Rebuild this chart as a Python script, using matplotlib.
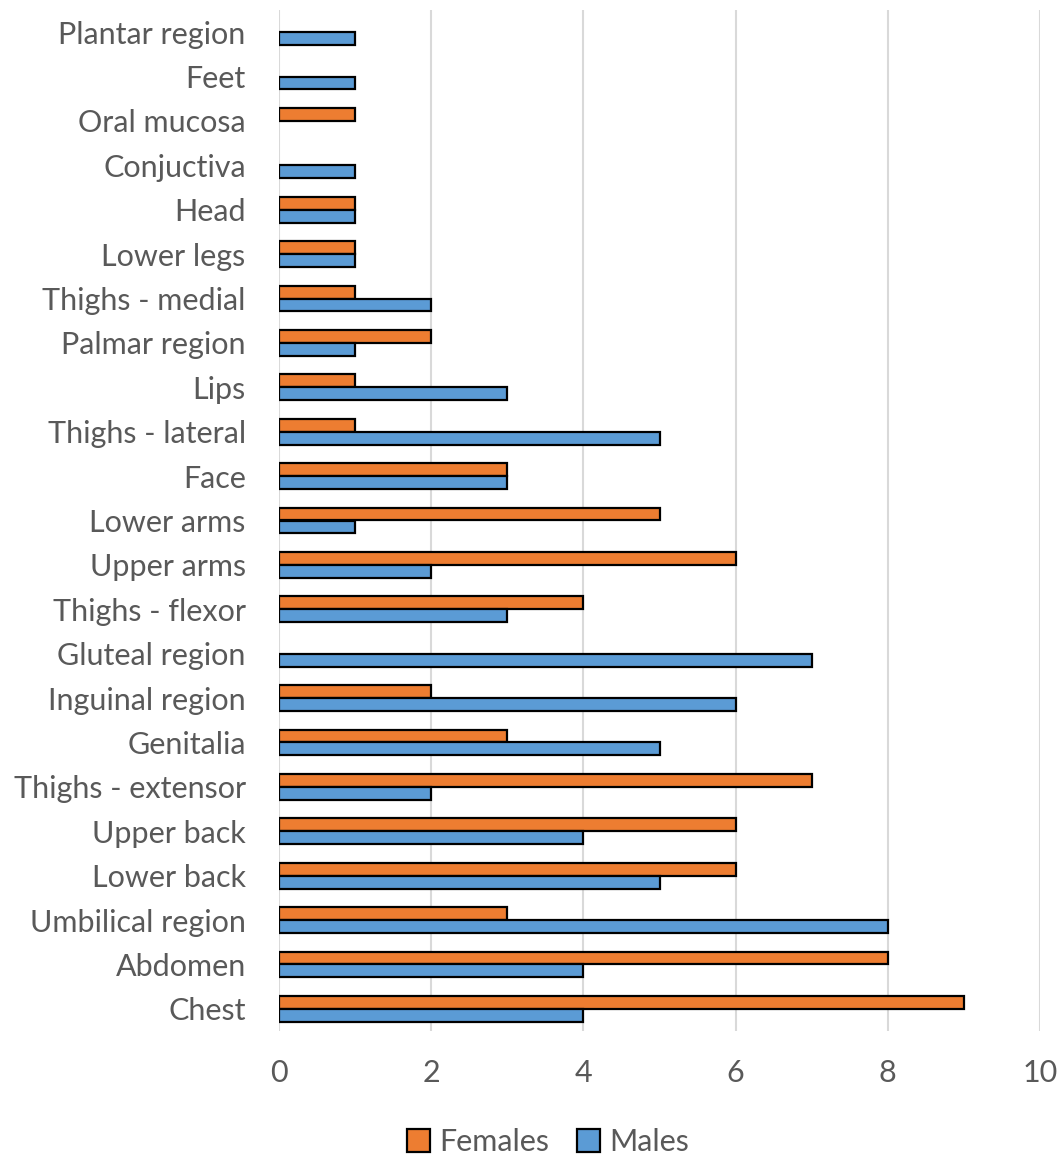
import matplotlib
matplotlib.use("Agg")
import matplotlib.pyplot as plt
import numpy as np

categories = ["Plantar region", "Feet", "Oral mucosa", "Conjuctiva", "Head", "Lower legs",
              "Thighs - medial", "Palmar region", "Lips", "Thighs - lateral", "Face",
              "Lower arms", "Upper arms", "Thighs - flexor", "Gluteal region",
              "Inguinal region", "Genitalia", "Thighs - extensor", "Upper back",
              "Lower back", "Umbilical region", "Abdomen", "Chest"]
females = [0, 0, 1, 0, 1, 1, 1, 2, 1, 1, 3, 5, 6, 4, 0, 2, 3, 7, 6, 6, 3, 8, 9]
males = [1, 1, 0, 1, 1, 1, 2, 1, 3, 5, 3, 1, 2, 3, 7, 6, 5, 2, 4, 5, 8, 4, 4]
xticks = [0, 2, 4, 6, 8, 10]

plt.rcParams['font.family'] = ['Lato', 'DejaVu Sans']
TXT = "#595959"
ORANGE = "#ED7D31"
BLUE = "#5B9BD5"

fig = plt.figure(figsize=(10.63, 11.58), dpi=100)
ax = fig.add_axes([279/1063, 1 - 1031/1158, (1040-279)/1063, (1031-10)/1158])

y = np.arange(len(categories))
h = 0.29
fe = ["black" if v > 0 else "none" for v in females]
me = ["black" if v > 0 else "none" for v in males]
ax.barh(y - h/2, females, height=h, color=ORANGE, edgecolor=fe, linewidth=1.6,
        label="Females", zorder=3)
ax.barh(y + h/2, males, height=h, color=BLUE, edgecolor=me, linewidth=1.6,
        label="Males", zorder=3)

ax.set_ylim(len(categories) - 0.5, -0.5)
ax.set_xlim(0, 10)
ax.set_xticks(xticks)
ax.set_xticklabels([str(t) for t in xticks])
ax.set_yticks(y)
ax.set_yticklabels(categories)
ax.tick_params(axis='both', length=0, labelsize=22, labelcolor=TXT)
ax.tick_params(axis='x', pad=20)
ax.tick_params(axis='y', pad=24)
ax.grid(axis='x', color="#D9D9D9", linewidth=1.5, zorder=0)
for s in ax.spines.values():
    s.set_visible(False)

from matplotlib.patches import Patch
handles = [Patch(facecolor=ORANGE, edgecolor="black", linewidth=1.6),
           Patch(facecolor=BLUE, edgecolor="black", linewidth=1.6)]
leg = fig.legend(handles, ["Females", "Males"], loc='center',
                 bbox_to_anchor=(548/1063, 1 - 1142/1158), ncol=2, frameon=False,
                 fontsize=22, handlelength=0.75, handleheight=0.75, handletextpad=0.3,
                 columnspacing=0.9)
for t in leg.get_texts():
    t.set_color(TXT)

fig.savefig("out.png", dpi=100)
